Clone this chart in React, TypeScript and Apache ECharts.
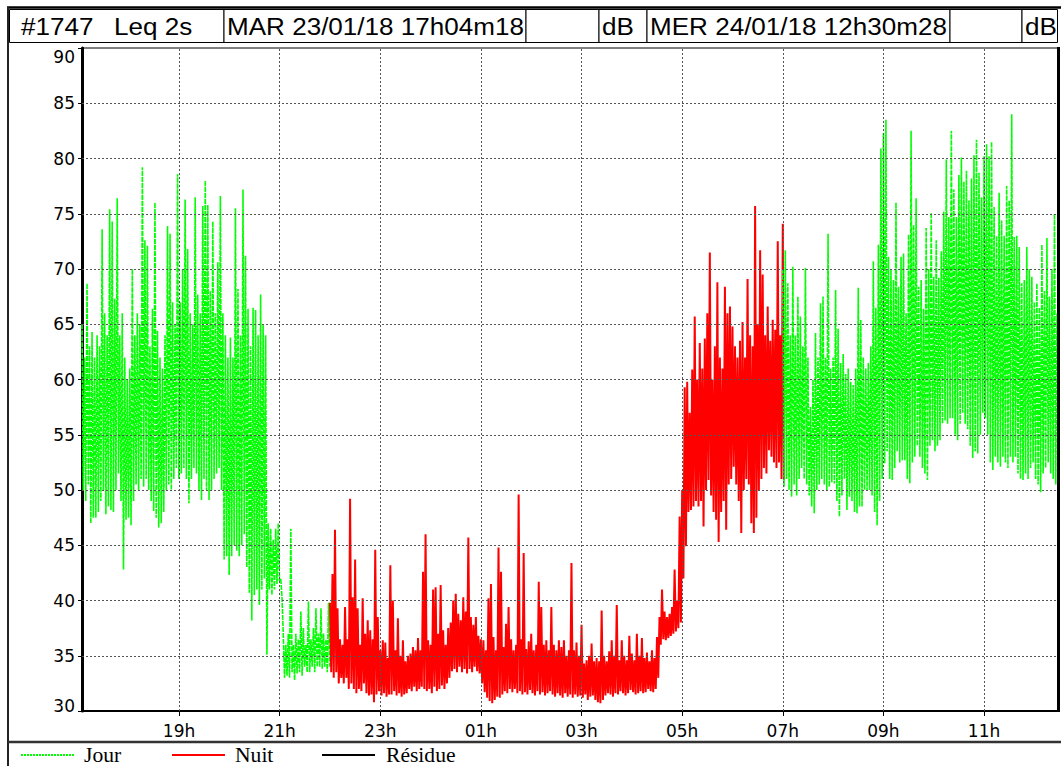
import React, { useEffect, useRef } from 'react';
import * as echarts from 'echarts';

// ---- header / tick texts ----
const headerTexts = ['#1747', 'Leq 2s', 'MAR 23/01/18 17h04m18', 'dB', 'MER 24/01/18 12h30m28', 'dB'];
const xTickHours = [19, 21, 23, 25, 27, 29, 31, 33, 35];
const xTickLabels = ['19h', '21h', '23h', '01h', '03h', '05h', '07h', '09h', '11h'];
const yGridValues = [35, 40, 45, 50, 55, 60, 65, 70, 75, 80, 85];
const legendNames = ['Jour', 'Nuit', 'Résidue'];
const legendColors = ['#00ff00', '#ff0000', '#000000'];

// ---- time base (hours from 23/01 00:00), 3-minute bins ----
const START_TIME = 17 + 4 / 60 + 18 / 3600;
const END_TIME = 36.47;
const NUIT_START = 22;
const JOUR2_START = 31;
const BIN = 0.05;

// ---- Jour (17h04 -> 22h00): max / min per bin (dB) ----
const jour1Hi = [
  65, 62, 68.7, 63, 64.3, 62, 64, 63, 73.6, 66,
  64, 75.4, 74.3, 67.3, 76.4, 64, 66, 62, 60, 61,
  70, 64, 66, 65, 79.2, 72.6, 72.1, 63, 66.4, 76,
  64.4, 62, 61, 64, 73.9, 73.2, 67, 65, 78.6, 67,
  70, 76.3, 71.8, 66, 65, 76.5, 67.7, 66, 75.7, 78,
  75.8, 68, 74.3, 66, 70.6, 76.6, 66, 64, 62, 63.8,
  62, 75.5, 68.2, 64, 77.2, 71.2, 66.4, 63, 66.5, 66.3,
  64, 67.7, 65, 64, 47, 46.5, 45.5, 46.5, 47, 42,
  37, 36, 37, 46.5, 36, 37, 36.5, 39, 37.5, 36,
  39.9, 36.5, 37.5, 39.3, 37, 39.3, 37, 36.5, 39.8,
];
const jour1Lo = [
  50, 49, 50.5, 47, 47.5, 47.5, 48, 49, 50, 47.8,
  48.5, 48.2, 48, 50, 51.5, 49, 42.8, 47.3, 47.5, 46.8,
  49, 50.5, 50, 51, 50.3, 51, 50, 49, 48.1, 47.5,
  46.6, 47, 48, 50, 50.5, 50, 51, 52, 51, 51.5,
  52, 51, 48.8, 51, 52, 51.5, 50, 49.1, 51, 50,
  49.1, 50, 51, 51.5, 52, 50, 43.7, 44, 42.3, 44,
  45, 44.5, 44, 45, 46, 43, 40.7, 38.2, 40.5, 41,
  39.6, 41, 42, 35.1, 41, 40.5, 41, 41.5, 41.8, 40.3,
  33, 33.2, 33, 33.5, 32.8, 33.4, 33.5, 33.2, 34, 33.5,
  33.5, 34, 33.5, 34, 34, 33.8, 34, 33.5, 34,
];

// ---- Nuit (22h00 -> 07h00) ----
const nuitHi = [
  39.8, 42.4, 46.4, 39.3, 36.5, 36, 39.4, 36.5, 49.2, 40.3,
  43.7, 39.3, 36, 40.2, 37, 38.2, 37.3, 36.5, 44.6, 38.5,
  35.5, 36.4, 36.2, 34.8, 43.2, 40, 35.5, 38.4, 35, 36.4,
  34.5, 35, 35.2, 35.8, 35.5, 36.6, 35.5, 42.6, 46, 36.4,
  36, 41, 41.2, 37, 41.4, 37.3, 36, 37.5, 38, 40,
  40.6, 38.8, 38.2, 40.3, 39, 45.7, 38.5, 37.8, 38.5, 36.8,
  36.5, 36.4, 35.5, 40.2, 41.5, 36.7, 35.5, 44.8, 42.6, 35.8,
  37.9, 39.4, 36.5, 35.5, 36, 49.6, 36.5, 44.3, 35.6, 36.3,
  37, 35.5, 36, 41.7, 39.4, 36, 36.4, 35.5, 39.4, 36,
  35.5, 36.4, 35.8, 36.4, 35, 35.5, 43.4, 35.5, 36.2, 35,
  37.8, 34.3, 34.6, 35, 36.1, 34.5, 34.8, 34.5, 39.1, 35,
  34.5, 35.4, 36.4, 35, 39.6, 34.6, 36.4, 35, 34.6, 36.8,
  35.2, 34.6, 37, 35, 36.6, 34.8, 35.3, 34.5, 35.5, 34.8,
  36.7, 38.5, 41, 39, 38.5, 38.8, 39.4, 42.8, 40, 47.6,
  50, 59.3, 59.8, 57, 60.9, 65.7, 60, 63.3, 61, 63.7,
  66, 71.5, 60, 63, 68.8, 62, 61, 68.4, 66, 66.6,
  64.8, 63, 62, 63.5, 65.2, 62, 69.1, 64, 63, 75.7,
  65, 71.7, 69.5, 64, 66.6, 63.5, 65.4, 64.5, 72.5, 64,
  74.1,
];
const nuitLo = [
  33.5, 33, 33.5, 32.5, 33, 32.5, 33, 32, 32.5, 32,
  31.6, 32, 31.8, 32.5, 31.6, 31.4, 31.5, 30.8, 31.5, 31.8,
  31.4, 31.6, 31.3, 31.5, 31.5, 31.8, 31.4, 31.6, 31.3, 31.5,
  31.6, 32, 31.8, 32.2, 31.8, 32, 32.2, 32, 31.8, 32,
  31.6, 32.2, 31.8, 32, 32.3, 32, 32.5, 33, 33.6, 33.8,
  33.5, 34, 33.5, 33.8, 33.4, 33.8, 33.5, 34, 33.6, 33.4,
  32.5, 31.7, 31.2, 30.9, 30.7, 31, 31.3, 31.2, 31.5, 31.8,
  31.6, 32, 31.7, 32, 31.6, 31.8, 31.5, 31.7, 31.5, 31.9,
  31.6, 31.4, 31.8, 31.5, 31.7, 31.4, 31.6, 31.8, 31.5, 31.3,
  31.6, 31.4, 31.2, 31.6, 31.3, 31.5, 31.2, 31.5, 31.3, 31.4,
  31.2, 31.5, 31, 31.3, 31.4, 31, 30.8, 30.7, 31, 31.4,
  31.6, 31.5, 31.3, 31.6, 31.5, 31.8, 31.6, 31.4, 31.6, 31.9,
  31.7, 31.5, 31.6, 31.8, 31.6, 31.7, 32, 31.8, 31.7, 32,
  33, 36, 36.5, 36.4, 36.6, 36.8, 37, 37.2, 37.5, 38,
  42, 44.9, 48, 48.2, 48.5, 49, 48.5, 49, 46.7, 50,
  50.9, 49.5, 48, 47.3, 45.3, 48, 49, 46.4, 50.5, 51,
  52.1, 50.5, 49, 46.1, 50, 51, 50.5, 47, 46.1, 47.5,
  50, 51, 52, 51.5, 53.6, 53, 52.5, 52, 52.5, 51,
  50.9,
];

// ---- Jour (07h00 -> 12h30) ----
const jour2Hi = [
  70, 71.7, 68.7, 64, 70.2, 64, 67.5, 65.7, 63, 70.1,
  62, 57.5, 60, 64.2, 62, 66.9, 67.5, 62, 73.2, 61,
  62, 68.1, 64.6, 61.5, 62.3, 60.5, 61, 59.8, 59.5, 61,
  68.3, 65.4, 62, 61, 61.5, 63, 70.7, 66.5, 72.2, 80.9,
  82.3, 83.5, 71.1, 70, 69, 76, 68.4, 71.1, 71.4, 66,
  73.1, 82.5, 74, 76.4, 68.4, 69, 66.4, 73.7, 70, 75.1,
  69.3, 72.6, 69.2, 71.6, 75.2, 79.9, 74.7, 82.5, 77.2, 74.7,
  78.5, 80.1, 77.9, 78.9, 76.2, 78.2, 80.3, 81.7, 78.7, 76.5,
  80.2, 81.3, 80.2, 81.5, 75.6, 73, 76.9, 74.4, 73, 77.5,
  76.2, 84, 72.9, 73, 72, 68.7, 69, 72, 70, 69.3,
  67, 68.7, 66.5, 72.2, 68, 72.8, 67.5, 70, 75, 66,
  63,
];
const jour2Lo = [
  50.3, 51, 50, 49.4, 50.5, 49.5, 51, 52, 51, 50.5,
  49.5, 48.5, 47.9, 50, 50.5, 51, 50.5, 50, 50.3, 50.7,
  50.6, 49, 47.6, 49.5, 51, 48.2, 49.4, 49, 48, 47.9,
  48.5, 48.5, 50, 50, 50, 49.5, 48, 46.8, 49, 51,
  52.4, 53.5, 51, 50.9, 52, 53.5, 52.5, 52.7, 52.7, 51,
  50.6, 52.5, 53, 54, 53, 52, 51.5, 50.9, 54, 54.5,
  53.5, 54, 54.5, 56, 56.3, 56, 56.5, 56.5, 55, 54.5,
  56, 57, 56, 55.5, 54, 52.9, 53.5, 53.3, 55, 57,
  56.5, 55, 52.5, 51.8, 53, 52.5, 52.1, 53, 52.5, 52,
  53, 52.5, 53, 51.5, 51, 50.9, 51.5, 51, 52, 52.5,
  51, 50.5, 49.8, 51.5, 52, 52.5, 51.5, 51, 50.5, 49.8,
  50,
];

function envelope(start: number, hi: number[], lo: number[]) {
  const pts: number[][] = [];
  for (let i = 0; i < hi.length; i++) {
    pts.push([start + i * BIN, hi[i]]);
    pts.push([start + i * BIN + BIN / 2, lo[i]]);
  }
  return pts;
}

const AXIS_FONT = '"DejaVu Sans", sans-serif';
const GREEN_DASH = [5, 1];

export default function App() {
  const ref = useRef<HTMLDivElement>(null);

  useEffect(() => {
    if (!ref.current) return;
    const chart = echarts.init(ref.current, undefined, { renderer: 'svg' });

    const cells = [
      [9.5, 224], [224, 526], [526, 599], [599, 647], [647, 950], [950, 1022], [1022, 1057.5],
    ];
    const textX = [21, 114, 227, 602, 650, 1025];

    const graphic: any[] = [];
    cells.forEach(([a, b]) => {
      graphic.push({
        type: 'rect', silent: true,
        shape: { x: a, y: 9.5, width: b - a, height: 33 },
        style: { fill: '#fff', stroke: '#000', lineWidth: 1 },
      });
    });
    headerTexts.forEach((t, i) => {
      graphic.push({
        type: 'text', silent: true, x: textX[i], y: 26, scaleX: 1.086,
        style: {
          text: t, x: 0, y: 0, fill: '#000',
          font: '24px "Liberation Sans", Arial, sans-serif',
          textVerticalAlign: 'middle', textAlign: 'left',
        },
      });
    });
    graphic.push(
      { type: 'line', silent: true, shape: { x1: 7, y1: 7.5, x2: 1061, y2: 7.5 }, style: { stroke: '#000', lineWidth: 2.5 } },
      { type: 'line', silent: true, shape: { x1: 8, y1: 7, x2: 8, y2: 766 }, style: { stroke: '#222', lineWidth: 2 } },
      { type: 'line', silent: true, shape: { x1: 8, y1: 742, x2: 1061, y2: 742 }, style: { stroke: '#333', lineWidth: 2.5 } },
      { type: 'line', silent: true, z: 10, shape: { x1: 1058.5, y1: 47, x2: 1058.5, y2: 712 }, style: { stroke: '#000', lineWidth: 3 } },
    );

    // legend row (line sample + label for each series)
    const legendLineX = [21, 172, 322];
    const legendTextX = [84, 235, 386];
    legendNames.forEach((name, i) => {
      graphic.push({
        type: 'line', silent: true,
        shape: { x1: legendLineX[i], y1: 755, x2: legendLineX[i] + 53, y2: 755 },
        style: { stroke: legendColors[i], lineWidth: i === 0 ? 2 : 2, lineDash: i === 0 ? [2, 1] : null },
      });
      graphic.push({
        type: 'text', silent: true, x: legendTextX[i], y: 755, scaleX: 1.08,
        style: {
          text: name, x: 0, y: 0, fill: '#000',
          font: '20px "Liberation Serif", "Times New Roman", serif',
          textVerticalAlign: 'middle', textAlign: 'left',
        },
      });
    });

    const lineBase = { type: 'line', showSymbol: false, symbol: 'none', silent: true, z: 2 };

    chart.setOption({
      animation: false,
      backgroundColor: '#fff',
      grid: { left: 82, top: 48, width: 976, height: 663, show: true, borderColor: '#000', borderWidth: 1 },
      xAxis: {
        type: 'value', min: START_TIME, max: END_TIME,
        axisLine: { show: true, lineStyle: { color: '#000', width: 2 } },
        axisTick: { show: true, customValues: xTickHours, length: 5, lineStyle: { color: '#000' } },
        axisLabel: {
          customValues: xTickHours, color: '#000', fontFamily: AXIS_FONT, fontSize: 17, margin: 11,
          formatter: (v: number) => xTickLabels[xTickHours.indexOf(Math.round(v))] ?? '',
        },
        splitLine: { show: false },
      },
      yAxis: {
        type: 'value', min: 30, max: 90, interval: 5,
        axisLine: { show: true, lineStyle: { color: '#000', width: 3 } },
        axisTick: { show: true, length: 4, lineStyle: { color: '#000' } },
        axisLabel: {
          color: '#000', fontFamily: AXIS_FONT, fontSize: 17, margin: 7,
          formatter: (v: number) => (v === 90 ? '{top|90}' : v === 30 ? '{bot|30}' : String(v)),
          rich: {
            top: { padding: [18, 0, 0, 0], fontFamily: AXIS_FONT, fontSize: 17, color: '#000' },
            bot: { padding: [0, 0, 10, 0], fontFamily: AXIS_FONT, fontSize: 17, color: '#000' },
          },
        },
        splitLine: { show: false },
      },
      graphic,
      series: [
        { ...lineBase, name: legendNames[0], data: envelope(START_TIME, jour1Hi, jour1Lo),
          lineStyle: { color: legendColors[0], width: 1.6, type: GREEN_DASH } },
        { ...lineBase, name: legendNames[1], data: envelope(NUIT_START, nuitHi, nuitLo),
          lineStyle: { color: legendColors[1], width: 2 } },
        { ...lineBase, name: legendNames[0] + ' ', data: envelope(JOUR2_START, jour2Hi, jour2Lo),
          lineStyle: { color: legendColors[0], width: 1.6, type: GREEN_DASH } },
        { ...lineBase, name: legendNames[2], data: [],
          lineStyle: { color: legendColors[2], width: 1 },
          markLine: {
            silent: true, symbol: ['none', 'none'], label: { show: false }, z: 5,
            lineStyle: { color: '#555', type: [2, 2], width: 1 },
            emphasis: { disabled: true },
            data: [
              ...yGridValues.map((v) => ({ yAxis: v })),
              ...xTickHours.map((v) => ({ xAxis: v })),
            ],
          } },
      ],
    } as any);

    return () => chart.dispose();
  }, []);

  return (
    <div
      ref={ref}
      style={{ position: 'fixed', left: 0, top: 0, width: 1061, height: 766, background: '#fff' }}
    />
  );
}
